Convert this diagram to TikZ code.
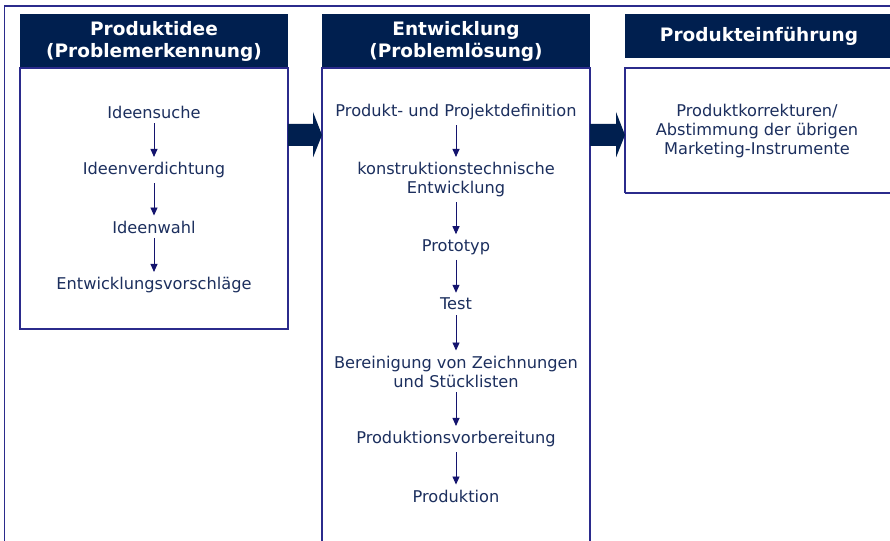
\documentclass[tikz,border=0pt]{standalone}
\usepackage{fontspec}
\setmainfont{DejaVu Sans}
\usetikzlibrary{arrows.meta}
\definecolor{navy}{HTML}{001F4F}
\definecolor{frame}{HTML}{2B2B8C}
\definecolor{txt}{HTML}{1C2F5E}
\definecolor{arr}{HTML}{14146E}
\tikzset{
  head/.style={fill=navy, text=white, font=\fontsize{18.5}{22}\selectfont\bfseries, align=center, inner sep=0pt},
  headtext/.style={text=white, font=\fontsize{18.5}{22}\selectfont\bfseries, align=center, inner sep=0pt},
  box/.style={draw=frame, line width=1.4pt, fill=white},
  item/.style={text=txt, font=\fontsize{16.2}{19}\selectfont, align=center, inner sep=0pt},
  flow/.style={draw=arr, line width=0.9pt, -{Triangle[length=8pt,width=7pt]}, shorten <=5pt, shorten >=5pt},
  big/.style={fill=navy}
}
\begin{document}
\begin{tikzpicture}[x=1pt,y=-1pt]
\useasboundingbox (0,0) rectangle (890,540);
\clip (0,0) rectangle (890,540);
\fill[white] (0,0) rectangle (890,540);
% outer frame
\draw[frame, line width=1.4pt] (4.5,560) -- (4.5,6) -- (900,6);
% headers
\node[head, minimum width=268pt, minimum height=54pt] (h1) at (154,41) {Produktidee\\(Problemerkennung)};
\node[head, minimum width=268pt, minimum height=54pt] (h2) at (456,41) {Entwicklung\\(Problemlösung)};
\fill[navy] (625,14) rectangle (900,58);
\node[headtext] (h3) at (759,36) {Produkteinführung};
% boxes
\draw[box] (20,68) rectangle (288,329);
\coordinate (b1e) at (288,135);
\draw[box] (322,68) rectangle (590,560);
\coordinate (b2w) at (322,135);
\coordinate (b2e) at (590,135);
\draw[box] (625,193) -- (625,68) -- (900,68) (625,193) -- (900,193);
\coordinate (b3w) at (625,135);
% big arrows
\fill[big] (b1e) ++(0,-11) -- ++(25,0) -- ++(0,-12) -- (b2w) -- ++(-9,22.5) -- ++(0,-11.5) -- ++(-25,0) -- cycle;
\fill[big] (b2e) ++(0,-11) -- ++(26,0) -- ++(0,-12) -- (b3w) -- ++(-9,22.5) -- ++(0,-11.5) -- ++(-26,0) -- cycle;
% left column
\node[item] (l1) at (154,112) {Ideensuche};
\node[item] (l2) at (154,170) {Ideenverdichtung};
\node[item] (l3) at (154,227) {Ideenwahl};
\node[item] (l4) at (154,285) {Entwicklungsvorschläge};
\draw[flow] (l1) -- (l2);
\draw[flow] (l2) -- (l3);
\draw[flow] (l3) -- (l4);
% middle column
\node[item] (m1) at (456,112) {Produkt- und Projektdefinition};
\node[item] (m2) at (456,179.5) {konstruktionstechnische\\Entwicklung};
\node[item] (m3) at (456,247) {Prototyp};
\node[item] (m4) at (456,304) {Test};
\node[item] (m5) at (456,371.5) {Bereinigung von Zeichnungen\\und Stücklisten};
\node[item] (m6) at (456,439) {Produktionsvorbereitung};
\node[item] (m7) at (456,496) {Produktion};
\draw[flow] (m1) -- (m2);
\draw[flow] (m2) -- (m3);
\draw[flow] (m3) -- (m4);
\draw[flow] (m4) -- (m5);
\draw[flow] (m5) -- (m6);
\draw[flow] (m6) -- (m7);
% right column
\node[item] (r1) at (757,131) {Produktkorrekturen/\\Abstimmung der übrigen\\Marketing-Instrumente};
\end{tikzpicture}
\end{document}
